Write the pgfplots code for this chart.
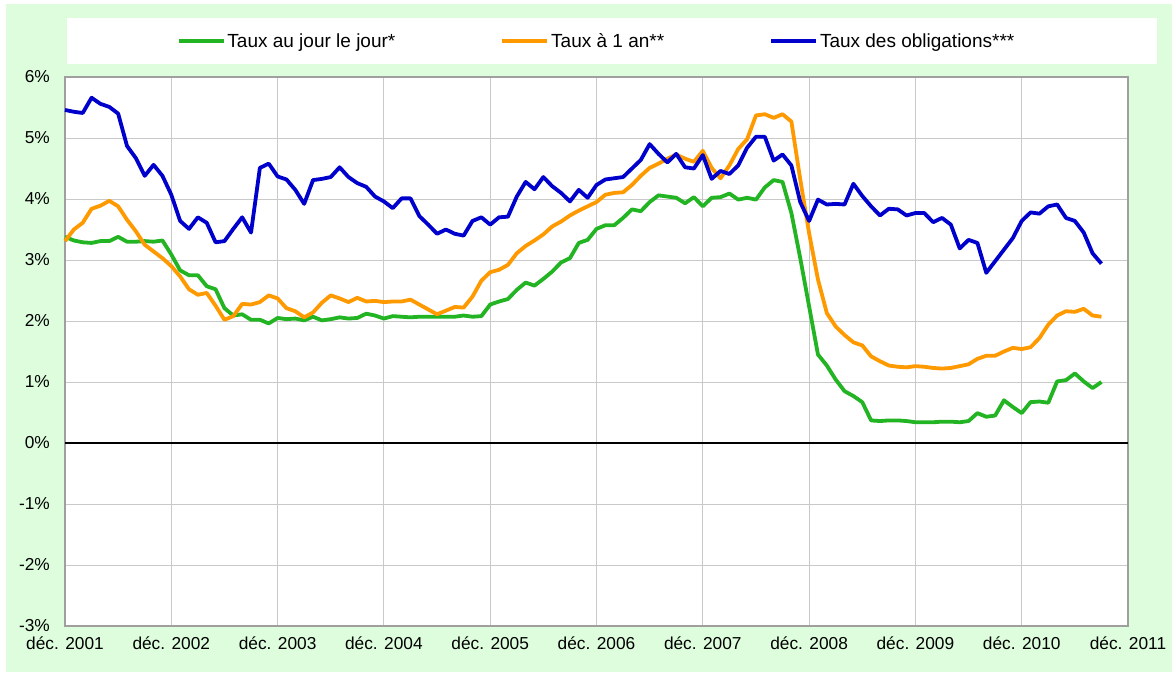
\documentclass[border=0pt]{standalone}
\usepackage{fontspec}
\setmainfont{Liberation Sans}
\usepackage{pgfplots}
\pgfplotsset{compat=1.18}
\usepackage{pgfplotstable}

\definecolor{bgreen}{RGB}{221,253,221}
\definecolor{cgreen}{RGB}{34,180,34}
\definecolor{corange}{RGB}{255,153,0}
\definecolor{cblue}{RGB}{0,0,204}

% m = months since Dec 2001
\pgfplotstableread{
m jour an oblig
0 3.38 3.31 5.46
1 3.32 3.50 5.43
2 3.29 3.61 5.41
3 3.28 3.84 5.66
4 3.31 3.89 5.56
5 3.31 3.97 5.51
6 3.38 3.88 5.40
7 3.30 3.66 4.87
8 3.30 3.47 4.67
9 3.31 3.25 4.38
10 3.30 3.14 4.56
11 3.32 3.03 4.38
12 3.09 2.90 4.07
13 2.83 2.73 3.64
14 2.75 2.52 3.51
15 2.75 2.43 3.70
16 2.57 2.46 3.61
17 2.52 2.25 3.29
18 2.21 2.02 3.31
19 2.09 2.08 3.51
20 2.11 2.28 3.70
21 2.02 2.27 3.45
22 2.02 2.31 4.51
23 1.96 2.42 4.58
24 2.05 2.37 4.37
25 2.03 2.21 4.32
26 2.04 2.16 4.15
27 2.01 2.06 3.92
28 2.07 2.14 4.31
29 2.01 2.30 4.33
30 2.03 2.42 4.36
31 2.06 2.37 4.52
32 2.04 2.31 4.36
33 2.05 2.38 4.26
34 2.12 2.32 4.20
35 2.09 2.33 4.04
36 2.04 2.31 3.96
37 2.08 2.32 3.85
38 2.07 2.32 4.01
39 2.06 2.35 4.01
40 2.07 2.27 3.72
41 2.07 2.19 3.58
42 2.07 2.11 3.43
43 2.07 2.17 3.50
44 2.07 2.23 3.43
45 2.09 2.22 3.40
46 2.07 2.40 3.64
47 2.08 2.66 3.70
48 2.27 2.80 3.58
49 2.32 2.84 3.70
50 2.36 2.92 3.71
51 2.51 3.11 4.04
52 2.63 3.23 4.28
53 2.58 3.32 4.16
54 2.69 3.42 4.36
55 2.81 3.55 4.21
56 2.96 3.63 4.10
57 3.03 3.73 3.96
58 3.28 3.81 4.15
59 3.33 3.88 4.02
60 3.51 3.95 4.23
61 3.57 4.07 4.32
62 3.57 4.10 4.34
63 3.69 4.11 4.36
64 3.83 4.23 4.50
65 3.80 4.38 4.64
66 3.95 4.51 4.90
67 4.06 4.58 4.74
68 4.04 4.66 4.60
69 4.02 4.73 4.74
70 3.93 4.66 4.52
71 4.03 4.61 4.50
72 3.88 4.79 4.72
73 4.02 4.51 4.33
74 4.03 4.34 4.46
75 4.09 4.55 4.41
76 3.99 4.82 4.55
77 4.02 4.98 4.84
78 3.99 5.37 5.02
79 4.19 5.39 5.02
80 4.31 5.33 4.63
81 4.28 5.39 4.73
82 3.77 5.27 4.55
83 3.03 4.32 3.95
84 2.24 3.44 3.64
85 1.45 2.68 3.99
86 1.27 2.13 3.91
87 1.04 1.91 3.92
88 0.85 1.77 3.91
89 0.77 1.65 4.25
90 0.67 1.60 4.05
91 0.37 1.42 3.88
92 0.36 1.34 3.73
93 0.37 1.27 3.84
94 0.37 1.25 3.83
95 0.36 1.24 3.73
96 0.34 1.26 3.77
97 0.34 1.25 3.77
98 0.34 1.23 3.62
99 0.35 1.22 3.69
100 0.35 1.23 3.58
101 0.34 1.26 3.19
102 0.36 1.29 3.33
103 0.49 1.38 3.28
104 0.43 1.43 2.79
105 0.45 1.43 2.98
106 0.70 1.50 3.17
107 0.59 1.56 3.36
108 0.49 1.54 3.64
109 0.67 1.57 3.78
110 0.68 1.72 3.76
111 0.66 1.94 3.88
112 1.01 2.09 3.91
113 1.03 2.16 3.69
114 1.14 2.15 3.64
115 1.01 2.20 3.45
116 0.90 2.09 3.11
117 1.00 2.07 2.94
}\rates

\begin{document}
\begin{tikzpicture}[x=1pt,y=1pt]
\path[use as bounding box,fill=white] (0,0) rectangle (1172,672);
\fill[bgreen] (6,0) rectangle (1172,668);
\fill[white] (67,608) rectangle (1157,654);
\begin{axis}[
  at={(65pt,46pt)}, anchor=south west,
  scale only axis, width=1063pt, height=549pt,
  xmin=0, xmax=120, ymin=-3, ymax=6,
  clip=false,
  axis background/.style={fill=white},
  axis line style={draw=gray!75, line width=1.3pt},
  major tick length=0pt,
  grid=major,
  major grid style={draw=gray!42, line width=1pt},
  xtick={0,12,...,120},
  xticklabels={déc. 2001,déc. 2002,déc. 2003,déc. 2004,déc. 2005,déc. 2006,déc. 2007,déc. 2008,déc. 2009,déc. 2010,déc. 2011},
  ytick={-3,-2,...,6},
  yticklabels={-3\%,-2\%,-1\%,0\%,1\%,2\%,3\%,4\%,5\%,6\%},
  ticklabel style={font=\fontsize{17.3}{20}\selectfont},
  xticklabel style={inner sep=0pt, anchor=north, yshift=-11pt},
  yticklabel style={inner sep=0pt, anchor=east, xshift=-15pt},
  legend columns=3,
  legend style={at={(axis description cs:0.5,1.0656)}, anchor=center,
    draw=none, fill=none, font=\fontsize{19}{22}\selectfont,
    nodes={inner sep=2pt},
    /tikz/every even column/.append style={column sep=103pt}},
  legend image code/.code={\draw[#1] (0pt,0pt) -- (45pt,0pt);},
  every axis plot/.append style={line width=3.8pt, line join=round},
]
\draw[black, line width=1.2pt] (axis cs:0,0) -- (axis cs:120,0);
\addplot[cgreen] table[x=m,y=jour] {\rates};
\addlegendentry{Taux au jour le jour*}
\addplot[corange] table[x=m,y=an] {\rates};
\addlegendentry{Taux à 1 an**}
\addplot[cblue] table[x=m,y=oblig] {\rates};
\addlegendentry{Taux des obligations***}
\end{axis}
\end{tikzpicture}
\end{document}
